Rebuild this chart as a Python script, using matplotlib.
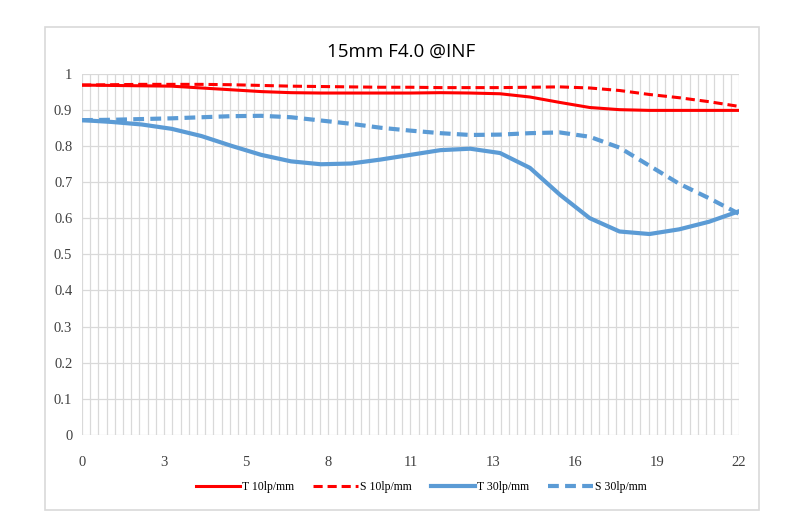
import numpy as np
import matplotlib
matplotlib.use('Agg')
import matplotlib.pyplot as plt
from matplotlib.patches import Rectangle

# field position (x) and MTF readings
x_pos = [0, 1, 2, 3, 4, 5, 6, 7, 8, 9, 10, 11, 12, 13, 14, 15, 16, 17, 18, 19, 20, 21, 22]
t10 = [0.968, 0.967, 0.966, 0.965, 0.960, 0.955, 0.950, 0.947, 0.946, 0.946, 0.946, 0.946,
       0.947, 0.946, 0.944, 0.935, 0.920, 0.906, 0.900, 0.898, 0.898, 0.898, 0.898]
s10 = [0.968, 0.969, 0.970, 0.970, 0.970, 0.969, 0.967, 0.965, 0.964, 0.963, 0.962, 0.962,
       0.961, 0.961, 0.961, 0.962, 0.963, 0.960, 0.953, 0.942, 0.933, 0.922, 0.909]
t30 = [0.871, 0.866, 0.859, 0.847, 0.827, 0.800, 0.775, 0.757, 0.749, 0.751, 0.762, 0.775,
       0.788, 0.792, 0.780, 0.739, 0.665, 0.600, 0.563, 0.556, 0.569, 0.590, 0.619]
s30 = [0.871, 0.872, 0.874, 0.876, 0.879, 0.882, 0.883, 0.879, 0.870, 0.861, 0.850, 0.842,
       0.835, 0.830, 0.831, 0.835, 0.837, 0.825, 0.795, 0.745, 0.695, 0.655, 0.612]

xtick_labels = ['0', '3', '5', '8', '11', '13', '16', '19', '22']
ytick_labels = ['0', '0.1', '0.2', '0.3', '0.4', '0.5', '0.6', '0.7', '0.8', '0.9', '1']

RED = '#FF0000'
BLUE = '#5B9BD5'
GRID = '#D9D9D9'

fig = plt.figure(figsize=(7.9, 5.3), dpi=100)
ax = fig.add_axes([0.1038, 0.1792, 0.8316, 0.6821])

ax.plot(x_pos, t10, color=RED, lw=2.2, label='T 10lp/mm', zorder=3)
ax.plot(x_pos, s10, color=RED, lw=2.2, ls=(0, (3, 1.6)), label='S 10lp/mm', zorder=3)
ax.plot(x_pos, t30, color=BLUE, lw=3, label='T 30lp/mm', zorder=3)
ax.plot(x_pos, s30, color=BLUE, lw=3, ls=(0, (2.6, 1.5)), label='S 30lp/mm', zorder=3)

ax.set_xlim(0, 22)
ax.set_ylim(0, 1)

# category axis: 80 intervals, label every 10th
ax.set_xticks(np.linspace(0, 22, 9))
ax.set_xticklabels(xtick_labels)
ax.set_xticks(np.linspace(0, 22, 81), minor=True)
ax.set_yticks(np.linspace(0, 1, 11))
ax.set_yticklabels(ytick_labels)

ax.grid(True, which='both', axis='x', color=GRID, lw=0.9)
ax.grid(True, which='major', axis='y', color=GRID, lw=0.9)
ax.set_axisbelow(True)
for s in ax.spines.values():
    s.set_visible(False)
ax.tick_params(axis='both', which='both', length=0)
ax.tick_params(axis='x', pad=15)
ax.tick_params(axis='y', pad=7)
for lab in ax.get_xticklabels() + ax.get_yticklabels():
    lab.set_family('Liberation Serif')
    lab.set_fontsize(10.5)
    lab.set_color('#404040')

fig.text(0.508, 0.902, '15mm F4.0 @INF', ha='center', va='center',
         fontsize=13.5, family='Open Sans', color='#000000')

fig.legend(loc='center', bbox_to_anchor=(0.533, 0.081), ncol=4, frameon=False,
           prop={'family': 'Liberation Serif', 'size': 8.5}, handlelength=3.8,
           handletextpad=0.15, columnspacing=1.6)

fig.patches.append(Rectangle((45 / 790, 1 - 510 / 530), (759 - 45) / 790, (510 - 27) / 530,
                             transform=fig.transFigure, fill=False, edgecolor=GRID, lw=1.2))

fig.savefig('out.png', dpi=100, facecolor='white')
